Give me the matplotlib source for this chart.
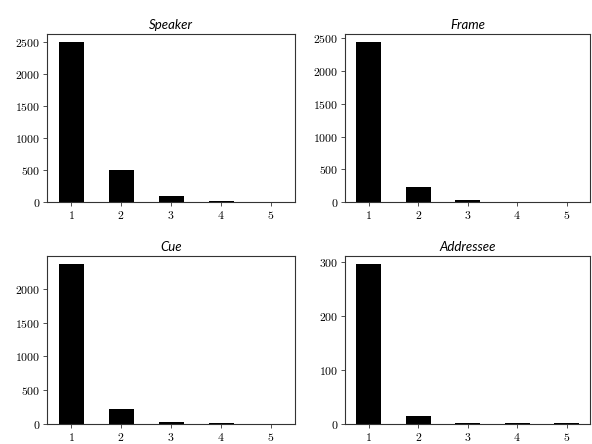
import matplotlib
matplotlib.use("Agg")
import matplotlib.pyplot as plt

plt.rcParams['font.family'] = 'serif'
plt.rcParams['font.serif'] = ['cmr10']
plt.rcParams['axes.formatter.use_mathtext'] = True
plt.rcParams['mathtext.fontset'] = 'cm'

categories = [1, 2, 3, 4, 5]
titles = ["Speaker", "Frame", "Cue", "Addressee"]
speaker = [2490, 505, 99, 21, 5]
frame = [2440, 235, 36, 7, 5]
cue = [2362, 224, 35, 8, 5]
addressee = [296, 15.5, 2.5, 1, 1]
series = [speaker, frame, cue, addressee]
yticks = [
    [0, 500, 1000, 1500, 2000, 2500],
    [0, 500, 1000, 1500, 2000, 2500],
    [0, 500, 1000, 1500, 2000],
    [0, 100, 200, 300],
]

fig = plt.figure(figsize=(5.92, 4.44), dpi=100)
positions = [
    [0.080, 0.545, 0.418, 0.378],
    [0.583, 0.545, 0.414, 0.378],
    [0.080, 0.045, 0.418, 0.378],
    [0.583, 0.045, 0.414, 0.378],
]
for pos, title, vals, yt in zip(positions, titles, series, yticks):
    ax = fig.add_axes(pos)
    ax.bar(categories, vals, width=0.5, color='black')
    ax.set_xticks(categories)
    ax.set_yticks(yt)
    ax.set_title(title, fontsize=9.5, family='Lato', style='italic', pad=4)
    ax.tick_params(labelsize=8.5, length=3, width=0.6, pad=2, colors='#333333', labelcolor='black')
    for s in ax.spines.values():
        s.set_linewidth(0.8)
        s.set_color('#333333')

fig.savefig("out.png", dpi=100)
